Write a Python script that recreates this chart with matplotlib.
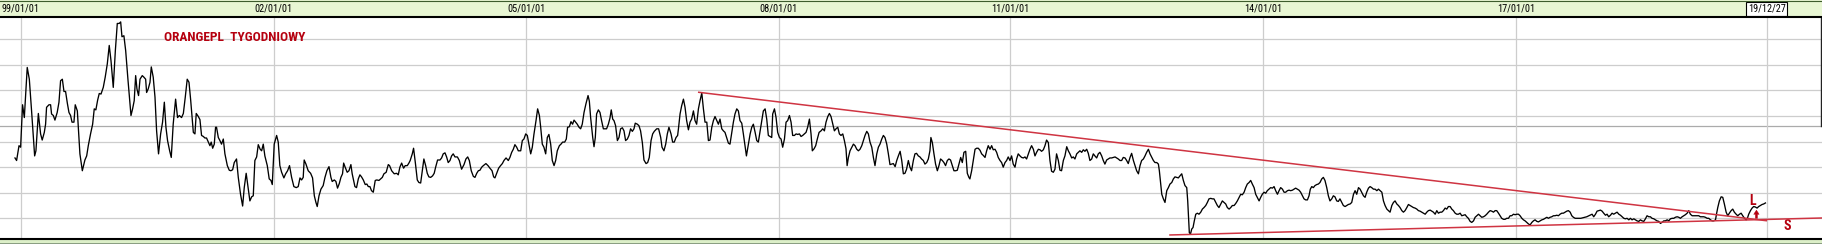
import matplotlib
matplotlib.use('Agg')
import matplotlib.pyplot as plt
from matplotlib.patches import Rectangle
from matplotlib.lines import Line2D
import matplotlib.transforms as mtransforms

# weekly close, x = bar number counted from the first week of 1999
week = [
    -3.7, -2.7, -1.2, -0.2, 1.0, 2.1, 3.9, 5.2, 6.6, 8.5, 9.3, 10.8, 12.2, 13.2, 14.5, 15.3, 15.9, 17.4, 18.4, 19.0,
    20.1, 21.1, 22.5, 23.6, 24.6, 25.7, 26.7, 27.7, 28.8, 29.8, 30.8, 31.7, 32.9, 33.7, 35.0, 36.6, 38.1, 39.7, 40.8, 41.8,
    43.2, 44.5, 45.5, 46.5, 47.6, 48.6, 49.7, 51.1, 52.3, 53.6, 54.8, 55.9, 57.3, 58.6, 59.8, 61.0, 61.9, 62.7, 63.9, 65.0,
    66.4, 68.3, 69.3, 70.3, 71.2, 72.0, 73.0, 73.9, 75.3, 76.3, 77.4, 78.0, 79.0, 80.1, 80.9, 82.1, 83.2, 84.2, 85.4, 86.7,
    87.9, 89.0, 90.0, 91.0, 92.3, 93.3, 94.5, 96.0, 97.2, 98.3, 99.7, 100.8, 102.0, 103.2, 104.3, 105.3, 107.0, 108.0, 108.8, 110.1,
    111.1, 112.1, 113.2, 114.2, 115.2, 116.3, 117.3, 118.1, 119.0, 120.0, 120.8, 121.4, 122.5, 123.5, 124.5, 125.6, 126.6, 128.1, 129.3,
    130.3, 131.4, 132.4, 133.8, 134.9, 136.3, 137.6, 138.6, 139.8, 141.1, 142.1, 143.2, 144.2, 145.2, 146.3, 147.3, 148.5, 149.4, 150.4, 151.4,
    152.9, 154.1, 155.2, 156.0, 157.2, 158.7, 159.7, 160.7, 161.8, 163.2, 164.3, 165.5, 166.7, 168.0, 169.4, 170.9, 172.1, 173.2, 174.2, 175.2,
    175.8, 176.9, 178.3, 179.8, 181.0, 182.1, 183.1, 183.9, 185.0, 186.2, 187.6, 188.7, 189.9, 191.2, 192.4, 193.2, 194.5, 195.5, 196.5, 197.6,
    198.6, 199.6, 200.3, 201.1, 202.5, 203.6, 204.8, 205.6, 207.3, 208.3, 209.4, 210.4, 211.4, 212.5, 213.7, 214.7, 215.6, 216.6, 217.6, 218.7,
    219.9, 220.9, 222.2, 223.2, 224.3, 225.3, 226.7, 228.0, 228.8, 230.1, 231.7, 233.2, 234.2, 235.2, 236.3, 237.5, 238.5, 239.8, 240.8, 241.6,
    242.9, 243.7, 244.9, 246.0, 247.0, 248.1, 249.1, 250.1, 251.2, 252.2, 253.2, 254.3, 255.5, 256.5, 257.4, 258.6, 260.1, 261.1, 262.1, 263.2,
    264.2, 265.2, 266.3, 267.3, 268.3,
    269.4, 270.9, 272.1, 273.5, 275.0, 276.2, 277.3, 278.3, 279.5, 280.8, 281.8, 282.9, 283.9, 284.9, 286.0, 287.0, 288.6, 289.9, 291.1, 292.4,
    293.4, 294.2, 295.3, 296.5, 297.7, 298.8, 299.8, 301.1, 302.5, 303.5, 304.6, 305.6, 306.6, 307.7, 308.7, 310.2, 311.2, 312.2, 313.3, 314.3,
    315.3, 316.4, 317.4, 318.4, 319.7, 320.7, 321.8, 322.6, 323.6, 324.6, 325.7, 326.7, 327.7, 328.8, 329.8, 330.9, 331.9, 332.9, 334.2, 335.2,
    336.2, 337.5, 338.5, 339.3, 340.4, 341.4, 342.4, 343.3, 344.3, 345.3, 346.4, 347.4, 348.4, 349.5, 350.7, 352.0, 352.8, 353.6, 354.9, 355.7,
    356.5, 357.3, 358.4, 359.4, 360.4, 361.5, 362.5, 363.5, 364.6, 365.6, 366.4, 367.3, 368.1, 369.1, 370.2, 371.2, 372.2, 373.3, 374.3, 375.3,
    376.4, 377.4, 378.4, 379.5, 380.5, 381.3, 382.6, 383.6, 384.6, 385.7, 386.7, 388.0, 389.0, 390.0, 391.1, 392.1, 393.1, 394.6, 395.8, 397.1,
    397.9, 399.1, 400.2, 401.2, 402.2, 403.5, 404.5, 405.5, 406.6, 407.6,
    408.1, 409.1, 410.1, 411.2, 412.2, 413.2, 414.3, 415.3, 416.3, 417.4, 418.4, 419.4, 420.5, 421.5, 422.6, 423.6, 424.6, 425.7, 426.7, 427.7,
    428.8, 429.8, 430.8, 431.9, 432.9, 433.9, 435.0, 436.0, 437.0, 438.1, 439.1, 440.1, 441.2, 442.2, 443.2, 444.3, 445.3, 446.3, 447.4, 448.4,
    449.4, 450.3, 451.5, 452.6, 453.6, 454.6, 455.7, 456.7, 457.7, 458.8, 459.8, 460.8, 461.9, 462.9, 463.9, 465.0, 466.0, 466.6, 467.7, 468.7,
    469.7, 470.8, 471.8, 472.8, 473.9, 474.9, 475.9, 477.0, 478.0, 479.0, 480.1, 481.1, 482.1, 483.2, 484.2, 485.2, 486.3, 487.3, 488.3, 489.4,
    490.4, 491.2, 492.3, 493.3, 494.3, 495.4, 496.6, 497.7, 498.7, 499.7, 500.8, 501.8, 502.8, 503.9, 504.9, 505.9, 507.0, 508.0, 509.0, 510.1,
    511.1, 512.1, 512.8, 513.6, 514.6, 515.7, 516.7, 517.7, 518.8, 519.8, 520.8, 521.9, 522.9, 523.9, 525.0, 526.0, 527.0, 528.1, 529.1, 530.1,
    531.2, 532.2, 533.2, 534.3, 535.3, 536.3, 537.4, 538.4, 539.4, 540.5, 541.5, 542.6, 543.6, 544.6, 545.7, 546.7, 547.7,
    548.7, 549.7, 550.8, 551.8, 552.8, 553.9, 554.9, 555.9, 557.0, 558.0, 559.0, 560.1, 561.1, 562.2, 563.2, 564.2, 564.8, 565.7, 566.7, 567.7,
    568.8, 569.8, 570.8, 571.9, 572.9, 573.9, 575.0, 576.0, 577.0, 578.1, 579.1, 580.2, 581.2, 582.2, 583.3, 584.3, 585.3, 586.4, 587.4, 588.4,
    589.0, 590.1, 591.1, 592.2, 593.2, 594.2, 595.3, 596.3, 597.3, 598.4, 599.4, 600.4, 601.5, 602.5, 603.5, 604.6, 605.6, 606.6, 607.7, 608.7,
    609.7, 610.8, 611.8, 612.8, 613.9, 614.9, 615.9, 617.0, 618.0, 619.0, 620.1, 621.1, 622.2, 623.2, 624.2, 625.3, 626.3, 627.3, 628.4, 629.4,
    630.4, 631.5, 632.5, 633.5, 634.6, 635.6, 636.6, 637.7, 638.7, 639.7, 640.8, 641.8, 642.8, 643.9, 644.9, 645.9, 647.0, 648.0, 649.1, 650.1,
    651.1, 652.2, 653.2, 654.2, 655.3, 656.3, 657.3, 658.4, 659.4, 660.4, 661.5, 662.5, 663.5, 664.6, 665.6, 666.6, 667.7, 668.7, 669.7, 670.8,
    671.8, 672.8, 673.9, 674.9, 675.9, 677.0, 678.0, 679.1, 680.1, 681.1, 682.2, 683.2, 684.2, 685.3, 686.3, 687.3,
    688.4, 689.4, 690.5, 691.5, 692.5, 693.6, 694.6, 695.6, 696.7, 697.7, 698.7, 699.8, 700.8, 701.9, 702.9, 703.9, 705.0, 706.0, 706.6, 707.2,
    708.1, 709.1, 710.1, 711.2, 712.2, 713.2, 714.3, 715.3, 716.3, 717.4, 718.4, 719.4, 720.5, 721.5, 722.5, 723.6, 724.2, 724.8, 725.2, 725.9,
    726.7, 727.5, 728.3, 729.2, 730.2, 731.2, 732.3, 733.3, 734.3, 735.4, 736.4, 737.4, 738.5, 739.5, 740.5, 741.6, 742.6, 743.6, 744.7, 745.7,
    746.7, 747.8, 748.8, 749.9, 750.9, 751.9, 753.0, 754.0, 755.0, 756.1, 757.1, 758.1, 759.2, 760.2, 761.2, 762.3, 763.3, 764.3, 765.4, 766.4,
    767.4, 768.5, 769.5, 770.5, 771.6, 772.6, 773.6, 774.7, 775.7, 776.8, 777.8, 778.8, 779.9, 780.9, 781.9, 783.0, 784.0, 785.0, 786.1, 787.1,
    788.1, 789.2, 790.2, 791.2, 792.3, 793.3, 794.3, 795.4, 796.4, 797.4, 798.5, 799.5, 800.3, 801.2, 802.2, 803.2, 804.3, 805.3, 806.3, 807.4,
    808.4, 809.4, 810.5, 811.5, 812.5, 813.6, 814.6, 815.6, 816.7, 817.7, 818.7, 819.8, 820.8, 821.9, 822.9, 823.9, 825.0, 826.0,
    827.1, 828.1, 829.1, 830.2, 831.2, 832.2, 833.3, 834.3, 835.3, 836.4, 837.4, 838.4, 839.5, 840.5, 841.6, 842.6, 843.6, 844.7, 845.7, 846.7,
    847.8, 848.8, 849.8, 850.9, 851.9, 852.9, 854.0, 855.0, 856.0, 857.1, 858.1, 859.1, 860.2, 861.2, 862.2, 863.3, 864.3, 865.3, 866.4, 867.4,
    868.4, 869.5, 870.5, 871.6, 872.6, 873.6, 874.7, 875.7, 876.7, 877.8, 878.8, 879.8, 880.9, 881.9, 882.9, 884.0, 885.0, 886.0, 887.1, 888.1,
    889.1, 890.2, 891.2, 892.2, 893.3, 894.3, 895.3, 896.4, 897.4, 898.4, 899.5, 900.5, 901.6, 902.6, 903.6, 904.7, 905.7, 906.7, 907.8, 908.8,
    909.8, 910.9, 911.9, 912.9, 914.0, 915.0, 916.0, 917.1, 918.1, 919.1, 920.2, 921.2, 922.2, 923.3, 924.3, 925.3, 926.4, 927.4, 928.5, 929.5,
    930.5, 931.6, 932.6, 933.6, 934.7, 935.7, 936.7, 937.8, 938.8, 939.8, 940.9, 941.9, 942.9, 944.0, 945.0, 946.0, 947.1, 948.1, 949.1, 950.2,
    951.2, 952.2, 953.3, 954.3, 955.3, 956.4, 957.4, 958.5, 959.5, 960.5, 961.6, 962.6, 963.6, 964.7, 965.7, 968.2, 971.9,
    975.2, 976.2, 977.3, 978.3, 979.3, 980.4, 981.4, 982.4, 983.5, 984.5, 985.5, 986.6, 987.6, 988.6, 989.7, 990.7, 991.8, 992.8, 993.8, 994.9,
    995.9, 996.9, 998.0, 999.0, 1000.0, 1001.1, 1002.1, 1003.1, 1004.2, 1005.2, 1006.2, 1007.3, 1008.3, 1009.3, 1010.4, 1011.4, 1012.4, 1013.5, 1014.5, 1015.5,
    1016.6, 1017.6, 1018.6, 1019.7, 1020.7, 1021.8, 1022.8, 1023.8, 1024.9, 1025.9, 1026.9, 1028.0, 1029.0, 1030.0, 1031.1, 1032.1, 1033.1, 1034.2, 1035.2, 1036.2,
    1037.3, 1038.3, 1039.3, 1040.4, 1041.4, 1042.4, 1043.5, 1044.5, 1045.5, 1046.6, 1047.6, 1048.7, 1049.7, 1050.7, 1051.8, 1052.4, 1053.2, 1054.2, 1055.3, 1056.3,
    1057.3, 1058.4, 1059.4, 1060.4, 1061.5, 1062.5, 1063.5, 1064.6, 1065.6, 1066.7, 1067.7, 1068.7, 1069.8, 1070.8, 1071.6, 1072.4, 1073.5, 1074.5, 1075.5, 1076.6,
    1077.6, 1078.6, 1079.7, 1080.7, 1081.7, 1082.8,
]
price = [
    16.8, 16.3, 19.2, 18.9, 27.2, 24.7, 34.5, 32.2, 26.0, 17.2, 18.2, 25.5, 21.5, 20.3, 21.8, 23.4, 26.7, 27.2, 27.2, 25.4,
    25.1, 24.2, 25.7, 27.7, 31.9, 32.2, 29.8, 29.8, 27.5, 25.7, 25.1, 23.8, 23.8, 27.2, 26.0, 17.6, 14.3, 16.4, 17.2, 19.2,
    21.5, 23.4, 26.4, 26.2, 28.1, 29.4, 29.3, 30.6, 32.6, 35.2, 38.8, 35.8, 30.6, 37.8, 43.1, 43.1, 43.4, 40.5, 40.7, 37.8,
    32.2, 25.1, 26.4, 28.0, 32.9, 30.3, 29.0, 32.2, 32.9, 32.6, 32.2, 29.6, 30.3, 31.6, 34.6, 32.6, 28.7, 22.1, 17.6, 21.5,
    23.8, 27.7, 22.8, 20.2, 18.2, 16.9, 23.4, 28.3, 24.7, 25.1, 24.7, 25.5, 28.7, 32.2, 31.6, 28.3, 21.8, 21.5, 25.5, 24.9,
    24.3, 21.2, 21.0, 20.7, 20.7, 19.9, 19.2, 19.9, 18.7, 19.5, 22.8, 22.8, 20.8, 20.2, 19.5, 20.5, 17.6, 15.3, 14.4,
    14.3, 14.5, 15.9, 16.6, 13.0, 9.7, 7.4, 11.0, 13.8, 10.7, 8.4, 9.2, 9.4, 16.3, 17.0, 19.4, 18.5, 18.2, 19.5, 17.2,
    15.3, 12.7, 12.4, 11.6, 19.5, 21.2, 19.9, 15.3, 14.0, 12.9, 13.7, 14.3, 15.3, 13.0, 11.2, 11.0, 11.2, 12.9, 12.5, 13.0,
    16.4, 15.6, 14.3, 13.8, 12.9, 9.4, 8.1, 7.3, 9.4, 10.7, 11.4, 13.0, 14.3, 15.1, 13.0, 12.2, 12.5, 12.2, 10.9, 11.8,
    13.0, 13.7, 15.8, 15.1, 14.0, 14.3, 15.5, 13.7, 11.2, 11.0, 12.7, 13.5, 13.1, 12.5, 11.6, 11.7, 11.2, 11.2, 10.4, 10.1,
    12.4, 12.5, 12.4, 12.7, 13.0, 13.7, 14.0, 15.5, 15.3, 14.3, 13.7, 13.8, 13.5, 15.0, 15.8, 14.8, 15.3, 15.3, 15.8, 16.3,
    17.6, 18.7, 15.6, 12.5, 12.0, 11.9, 14.3, 16.6, 15.3, 13.8, 13.1, 13.0, 13.3, 13.8, 15.0, 16.4, 16.4, 16.8, 17.6, 17.8,
    17.0, 15.9, 16.3, 17.2, 17.6,
    17.0, 17.0, 16.3, 14.6, 15.5, 16.6, 17.0, 16.3, 14.3, 13.2, 13.0, 13.8, 14.3, 14.4, 15.0, 15.3, 15.7, 15.3, 14.8, 14.3,
    13.1, 12.9, 13.8, 14.8, 15.3, 15.7, 16.3, 16.8, 16.3, 16.9, 17.9, 18.5, 19.4, 18.9, 18.2, 18.2, 20.2, 20.5, 21.5, 21.2,
    19.5, 17.6, 18.9, 21.4, 24.1, 26.4, 25.1, 22.8, 19.5, 18.9, 17.6, 20.8, 21.4, 19.5, 16.3, 15.3, 16.3, 18.2, 19.2, 19.5,
    19.9, 19.9, 20.5, 22.8, 22.9, 23.9, 23.4, 24.2, 23.8, 23.4, 22.8, 22.5, 23.4, 25.7, 27.4, 29.0, 27.9, 24.7, 20.8, 19.0,
    20.8, 25.4, 26.2, 25.7, 24.1, 22.5, 22.5, 22.5, 23.4, 24.6, 26.2, 24.4, 24.1, 23.1, 20.2, 20.8, 22.5, 22.7, 22.1, 20.2,
    20.5, 21.2, 22.5, 22.0, 22.5, 23.6, 23.4, 23.1, 22.1, 19.8, 16.4, 15.7, 15.9, 16.9, 20.2, 21.5, 22.0, 22.5, 22.5, 20.8,
    18.9, 18.2, 19.5, 21.5, 22.8, 21.5, 19.9, 19.9, 20.8, 21.2,
    22.5, 25.4, 27.0, 28.3, 26.7, 24.1, 22.3, 23.8, 24.4, 26.0, 24.1, 23.4, 26.4, 28.0, 29.5, 26.4, 23.8, 23.8, 20.2, 20.3,
    22.8, 24.1, 24.9, 24.1, 23.4, 24.4, 22.5, 22.1, 21.8, 20.7, 19.7, 19.5, 21.8, 23.8, 25.4, 26.4, 26.0, 24.1, 23.6, 21.5,
    19.2, 17.2, 19.5, 21.5, 22.8, 23.4, 21.8, 20.2, 19.9, 22.1, 24.1, 26.0, 26.4, 24.4, 21.2, 21.0, 20.8, 25.4, 26.4, 24.7,
    21.8, 20.8, 20.5, 18.9, 20.5, 23.8, 24.1, 25.1, 23.8, 21.2, 21.2, 21.5, 21.4, 21.5, 21.0, 21.2, 21.5, 21.8, 22.8, 24.4,
    21.5, 18.2, 18.6, 19.2, 20.5, 21.8, 22.1, 22.5, 22.1, 23.8, 24.9, 25.5, 24.9, 23.4, 22.1, 22.5, 22.8, 21.5, 21.2, 21.5,
    20.2, 18.6, 15.3, 16.9, 18.2, 18.9, 19.5, 19.2, 18.5, 18.2, 18.5, 19.2, 20.2, 21.2, 22.0, 21.5, 19.9, 18.9, 16.9, 15.3,
    17.6, 18.9, 19.5, 20.5, 21.2, 20.8, 19.5, 17.6, 15.5, 15.6, 15.7, 15.1, 16.3, 17.2, 18.1, 16.3, 13.7,
    13.8, 14.6, 16.3, 15.0, 14.3, 16.3, 17.6, 17.7, 17.2, 17.0, 16.6, 16.3, 15.6, 15.9, 16.6, 18.2, 20.8, 19.8, 17.6, 15.6,
    14.3, 15.3, 16.6, 16.3, 15.9, 15.3, 16.3, 16.6, 16.4, 15.3, 14.3, 14.3, 14.4, 15.6, 16.9, 15.9, 17.9, 18.1, 13.8, 13.0,
    12.7, 14.3, 16.3, 18.5, 18.7, 18.7, 18.3, 17.6, 17.3, 16.9, 18.2, 19.2, 18.5, 19.2, 18.4, 18.5, 17.9, 16.9, 16.3, 15.9,
    15.0, 15.9, 16.3, 17.0, 16.3, 17.2, 15.6, 15.0, 16.6, 17.6, 17.2, 16.9, 16.8, 17.0, 16.6, 17.6, 18.5, 19.2, 18.5, 17.2,
    17.9, 18.5, 18.4, 18.1, 18.4, 19.2, 20.3, 19.8, 16.3, 14.2, 14.0, 14.6, 17.6, 16.3, 14.4, 14.3, 16.3, 17.2, 19.0, 18.2,
    17.6, 16.8, 17.0, 16.6, 17.6, 17.9, 18.2, 17.9, 18.4, 18.1, 18.5, 17.7, 16.3, 16.6, 17.6, 17.2, 16.8, 17.6, 17.9, 17.2,
    16.3, 15.6, 16.4, 16.6, 16.8, 16.8, 16.9, 17.0, 16.8, 16.6, 16.3, 16.3, 16.9, 16.8, 16.3, 15.7,
    16.9, 17.7, 16.3, 15.3, 14.3, 13.7, 15.3, 16.3, 16.6, 17.2, 17.9, 18.5, 17.6, 16.9, 16.3, 15.9, 15.9, 15.6, 14.3, 12.4,
    9.7, 8.8, 8.1, 10.4, 11.0, 11.7, 12.0, 12.7, 13.1, 13.0, 12.9, 13.3, 13.7, 12.4, 11.4, 11.0, 8.4, 4.9, 2.2, 1.9,
    2.9, 3.2, 4.5, 5.8, 6.0, 5.8, 6.2, 6.8, 7.1, 7.5, 8.1, 8.8, 8.9, 8.8, 8.8, 8.1, 7.5, 7.1, 7.8, 8.4,
    8.1, 7.8, 7.1, 6.8, 7.1, 7.5, 7.5, 7.9, 8.4, 9.1, 9.7, 9.6, 10.1, 11.0, 11.7, 12.0, 12.4, 11.7, 11.0, 9.7,
    9.1, 8.4, 9.1, 9.7, 10.1, 9.9, 10.4, 10.7, 11.0, 10.9, 11.2, 10.4, 9.7, 10.4, 11.0, 10.7, 10.1, 10.1, 10.4, 10.5,
    10.4, 10.5, 10.7, 10.9, 10.7, 10.5, 10.1, 9.4, 8.8, 8.6, 8.6, 9.4, 10.7, 11.2, 11.0, 11.4, 11.6, 11.7, 12.0, 12.7,
    13.0, 12.4, 11.0, 9.4, 8.4, 8.8, 9.4, 9.2, 8.4, 8.3, 8.8, 8.1, 7.5, 7.3, 7.5, 7.7, 7.8, 8.1,
    9.7, 10.4, 9.7, 11.0, 10.7, 10.1, 9.4, 9.1, 10.1, 10.9, 11.2, 11.0, 10.7, 10.7, 10.4, 10.7, 10.4, 10.1, 8.4, 7.5,
    6.8, 6.5, 6.2, 7.5, 8.1, 8.4, 7.8, 7.5, 7.1, 6.5, 6.2, 6.5, 7.1, 7.7, 7.5, 7.3, 7.1, 7.0, 6.8, 6.5,
    6.4, 6.2, 6.0, 5.8, 6.2, 6.5, 6.6, 6.4, 6.2, 5.8, 6.5, 6.0, 6.2, 6.2, 6.5, 7.0, 6.8, 7.3, 7.3, 6.8,
    6.5, 6.0, 5.8, 5.8, 6.0, 5.5, 5.6, 5.7, 5.3, 5.0, 4.4, 4.2, 4.5, 5.2, 5.5, 5.8, 5.5, 5.2, 5.3, 5.5,
    5.8, 6.2, 6.5, 6.4, 6.2, 6.5, 6.5, 6.0, 5.5, 5.0, 4.8, 4.8, 5.0, 5.0, 5.5, 5.5, 5.8, 5.7, 5.8, 5.8,
    5.5, 5.0, 4.7, 4.5, 4.2, 3.9, 3.7, 4.2, 4.5, 4.7, 4.4, 4.3, 4.5, 4.7, 4.8, 5.0, 5.2, 5.0, 5.2, 5.3,
    5.5, 5.5, 5.6, 5.5, 5.8, 6.0, 6.0, 6.2, 6.4, 6.5, 6.2, 5.5, 5.2, 5.0, 5.0, 5.0, 5.3,
    5.8, 5.3, 5.8, 6.4, 6.5, 6.6, 6.4, 6.0, 5.6, 5.8, 5.3, 5.6, 6.0, 5.8, 6.0, 6.2, 5.8, 5.6, 5.3, 5.0,
    4.9, 5.0, 4.7, 5.0, 4.7, 4.9, 4.7, 4.5, 4.4, 4.7, 4.5, 4.4, 4.9, 5.5, 5.3, 5.3, 5.0, 4.9, 4.7, 4.5,
    4.4, 4.0, 4.2, 4.5, 4.5, 4.7, 4.5, 4.9, 5.0, 5.0, 5.2, 5.3, 5.2, 5.0, 5.3, 5.5, 5.7, 6.0, 6.5, 5.8,
    5.5, 5.5, 5.5, 5.5, 5.5, 5.3, 5.3, 5.3, 5.2, 5.0, 5.0, 4.7, 4.5, 4.5, 4.7, 5.8, 7.1, 8.4, 9.2, 9.1,
    7.8, 6.2, 5.5, 6.0, 6.5, 6.8, 6.2, 5.8, 5.5, 5.8, 6.0, 5.5, 5.0, 4.7, 5.0, 5.8, 6.5, 7.0, 7.3, 7.2,
    7.0, 7.3, 7.5, 7.7, 7.8, 8.0,
]

tick_weeks = [0, 157, 313.5, 470.3, 613.8, 770.8, 927.8]
tick_labels = ['99/01/01', '02/01/01', '05/01/01', '08/01/01', '11/01/01', '14/01/01', '17/01/01']
last_week = 1083.6
last_label = '19/12/27'
grid_levels = [5, 10, 15, 20, 25, 30, 35, 40]
mid_level = 23.0

# trend lines drawn on the chart
resist_w = [420.7, 1083.3]
resist_p = [29.64, 4.53]
support_w = [713.2, 1117.9]
support_p = [1.74, 5.06]

RED = '#b5000f'
LINE_RED = '#cf3442'
FONT = ['Roboto Condensed', 'DejaVu Sans']

W, H = 1822, 244
fig = plt.figure(figsize=(W / 100, H / 100), dpi=100)
fig.patch.set_facecolor('white')

# plot area between top date strip and bottom strip
ax = fig.add_axes([0, 5.5 / H, 1, 222 / H])
ax.set_xlim(-13.0, 1117.9)
ax.set_ylim(1.05, 44.46)
ax.axis('off')

for lv in grid_levels:
    ax.axhline(lv, color='#cdcdcd', lw=0.9, zorder=1)
ax.axhline(mid_level, color='#ababab', lw=0.9, zorder=1)
for t in tick_weeks + [last_week]:
    ax.axvline(t, color='#cdcdcd', lw=0.9, zorder=1)
ax.plot([1117.4, 1117.4], [mid_level, 44.46], color='#222', lw=1.0, zorder=1)

ax.plot(week, price, color='black', lw=0.95, zorder=3)
ax.plot(resist_w, resist_p, color=LINE_RED, lw=1.1, zorder=4)
ax.plot(support_w, support_p, color=LINE_RED, lw=1.1, zorder=4)

ax.text(89.1, 40.4, 'ORANGEPL  TYGODNIOWY', color=RED, fontsize=9.6, fontweight='bold',
        family=FONT, ha='left', va='center')
ax.text(1074.9, 8.35, 'L', color=RED, fontsize=10, fontweight='bold', family=FONT,
        ha='center', va='center')
ax.text(1096.5, 3.4, 'S', color=RED, fontsize=10, fontweight='bold', family=FONT,
        ha='center', va='center')
ax.annotate('', xy=(1077.2, 6.6), xytext=(1077.2, 5.0),
            arrowprops=dict(arrowstyle='simple,head_length=0.5,head_width=0.65,tail_width=0.25',
                            fc=RED, ec=RED, lw=0.3, shrinkA=0, shrinkB=0, mutation_scale=6), zorder=5)

# top date strip
fig.patches.append(Rectangle((0, 1 - 16 / H), 1, 16 / H, transform=fig.transFigure,
                             facecolor='#e8f6d3', edgecolor='none', zorder=-1))
fig.lines.append(Line2D([0, 1], [1 - 0.5 / H, 1 - 0.5 / H], transform=fig.transFigure,
                        color='#3d5c2c', lw=0.8))
fig.lines.append(Line2D([0, 1], [1 - 16.5 / H, 1 - 16.5 / H], transform=fig.transFigure,
                        color='black', lw=1.5))
tr = mtransforms.blended_transform_factory(ax.transData, fig.transFigure)
for t, lab in zip(tick_weeks, tick_labels):
    ax.text(t, 1 - 8.5 / H, lab, transform=tr, fontsize=7.4, family=FONT,
            ha='center', va='center', color='black', clip_on=False)
ax.text(last_week, 1 - 9 / H, last_label, transform=tr, fontsize=7.4, family=FONT,
        ha='center', va='center', color='black', clip_on=False,
        bbox=dict(boxstyle='square,pad=0.15', fc='white', ec='black', lw=0.8))

# bottom strip
fig.patches.append(Rectangle((0, 0), 1, 5.5 / H, transform=fig.transFigure,
                             facecolor='#dcefc8', edgecolor='none', zorder=-1))
fig.patches.append(Rectangle((0, 0), 1, 1.5 / H, transform=fig.transFigure,
                             facecolor='#8a9e82', edgecolor='none', zorder=-1))
fig.lines.append(Line2D([0, 1], [5.5 / H, 5.5 / H], transform=fig.transFigure,
                        color='black', lw=1.5))

fig.savefig('out.png', dpi=100)
